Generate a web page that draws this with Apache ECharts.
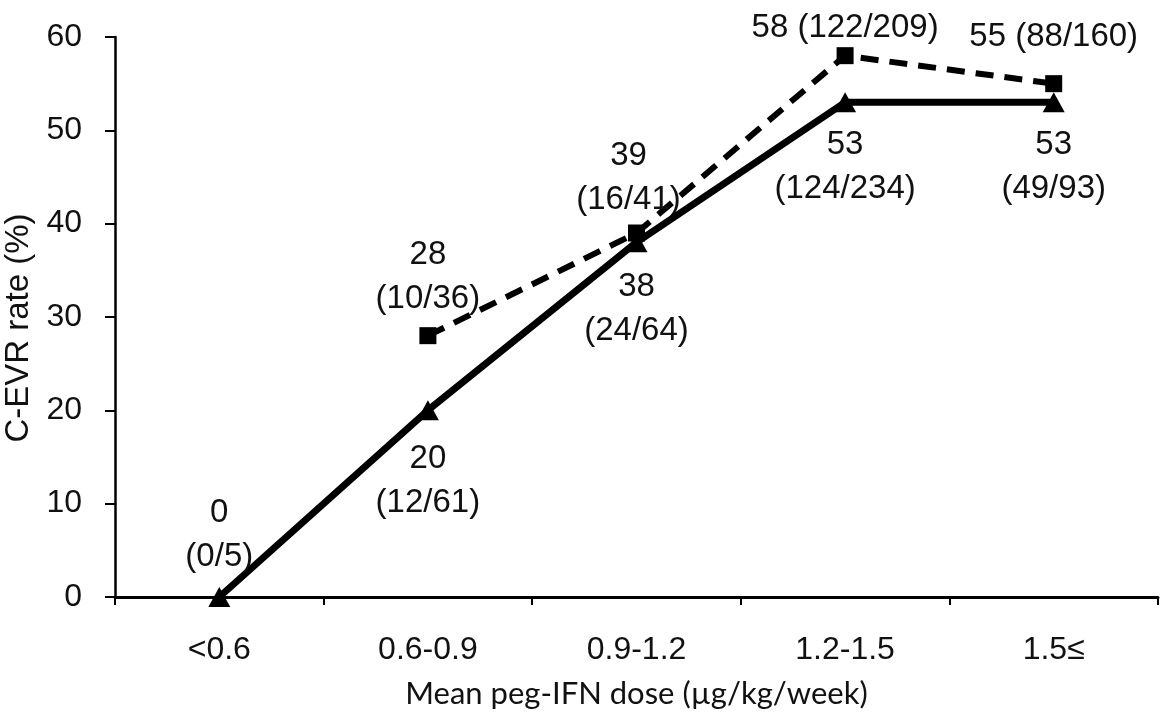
<!DOCTYPE html>
<html><head><meta charset="utf-8">
<script src="https://cdn.jsdelivr.net/npm/echarts@6/dist/echarts.min.js"></script>
<style>html,body{margin:0;background:#fff}#c{width:1162px;height:716px}</style>
</head><body><div id="c"></div>
<script>
const categories = ['<0.6', '0.6-0.9', '0.9-1.2', '1.2-1.5', '1.5≤'];
const solidValues = [0, 20, 38, 53, 53];
const solidCounts = ['0/5', '12/61', '24/64', '124/234', '49/93'];
const dashedValues = [null, 28, 39, 58, 55];
const dashedCounts = [null, '10/36', '16/41', '122/209', '88/160'];
const yMin = 0, yMax = 60, yStep = 10;

const FONT = '"Liberation Sans", Arial, sans-serif';
const labelBase = { show: true, color: '#111', fontFamily: FONT, fontSize: 33, lineHeight: 44 };

// label layout per point
const solidLabelStyle = [
  { position: 'top', distance: 8 },
  { position: 'bottom', distance: 17 },
  { position: 'bottom', distance: 13 },
  { position: 'bottom', distance: 11 },
  { position: 'bottom', distance: 11 }
];
const dashedLabelStyle = [
  null,
  { position: 'top', distance: 6 },
  { position: 'top', distance: 3, offset: [-8, 0] },
  { position: 'top', distance: -3, oneLine: true },
  { position: 'top', distance: 16, oneLine: true }
];

const solidData = solidValues.map((v, i) => ({
  value: v,
  label: Object.assign({}, labelBase, solidLabelStyle[i], {
    formatter: v + '\n(' + solidCounts[i] + ')'
  })
}));
const dashedData = dashedValues.map((v, i) => {
  if (v === null) return null;
  const st = dashedLabelStyle[i];
  const sep = st.oneLine ? ' ' : '\n';
  return {
    value: v,
    label: Object.assign({}, labelBase, { position: st.position, distance: st.distance, offset: st.offset || [0, 0] }, {
      formatter: v + sep + '(' + dashedCounts[i] + ')'
    })
  };
});

const chart = echarts.init(document.getElementById('c'));
chart.setOption({
  backgroundColor: '#fff',
  animation: false,
  grid: { left: 115, right: 4, top: 37, bottom: 119, containLabel: false, outerBoundsMode: 'none' },
  xAxis: {
    type: 'category',
    data: categories,
    boundaryGap: true,
    axisLine: { lineStyle: { color: '#000', width: 3 } },
    axisTick: { show: true, inside: false, length: 8, lineStyle: { color: '#000', width: 2 } },
    axisLabel: { color: '#111', fontFamily: FONT, fontSize: 32, margin: 37 },
    name: 'Mean peg-IFN dose (µg/kg/week)',
    nameLocation: 'middle',
    nameGap: 81,
    nameTextStyle: { color: '#111', fontFamily: 'Lato, "Open Sans", sans-serif', fontSize: 31 }
  },
  yAxis: {
    type: 'value',
    min: yMin, max: yMax, interval: yStep,
    splitLine: { show: false },
    axisLine: { show: true, lineStyle: { color: '#000', width: 2.5 } },
    axisTick: { show: true, inside: false, length: 10, lineStyle: { color: '#000', width: 2 } },
    axisLabel: { color: '#111', fontFamily: FONT, fontSize: 32, margin: 33 },
    name: 'C-EVR rate (%)',
    nameLocation: 'middle',
    nameRotate: 90,
    nameGap: 71,
    nameTextStyle: { color: '#111', fontFamily: FONT, fontSize: 33, padding: [0, 22, 0, 0] }
  },
  series: [
    {
      type: 'line',
      data: dashedData,
      connectNulls: false,
      symbol: 'rect',
      symbolSize: 17,
      itemStyle: { color: '#000' },
      lineStyle: { color: '#000', width: 6, type: [18, 11] },
      z: 2
    },
    {
      type: 'line',
      data: solidData,
      symbol: 'triangle',
      symbolSize: [22, 20],
      itemStyle: { color: '#000' },
      lineStyle: { color: '#000', width: 7 },
      z: 3
    }
  ]
});
</script>
</body></html>
